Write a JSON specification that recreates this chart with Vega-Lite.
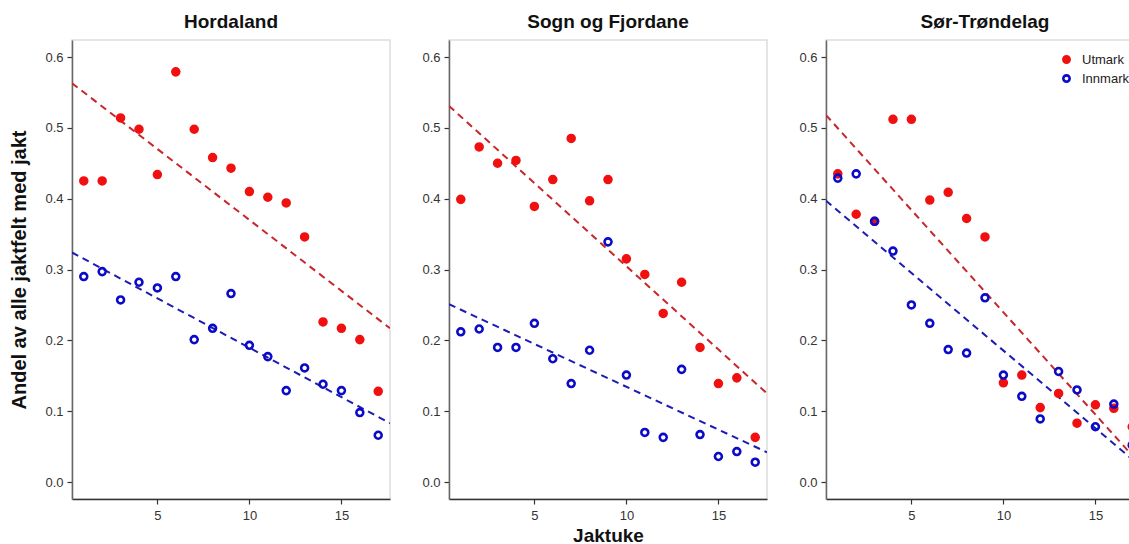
{
  "$schema": "https://vega.github.io/schema/vega-lite/v6.json",
  "background": "white",
  "padding": {"left": 9, "top": 12, "right": 0, "bottom": 0},
  "datasets": {
    "pts": [
      {"region": "Hordaland", "type": "Utmark", "uke": 1, "andel": 0.425},
      {"region": "Hordaland", "type": "Utmark", "uke": 2, "andel": 0.425},
      {"region": "Hordaland", "type": "Utmark", "uke": 3, "andel": 0.514},
      {"region": "Hordaland", "type": "Utmark", "uke": 4, "andel": 0.498},
      {"region": "Hordaland", "type": "Utmark", "uke": 5, "andel": 0.434},
      {"region": "Hordaland", "type": "Utmark", "uke": 6, "andel": 0.579},
      {"region": "Hordaland", "type": "Utmark", "uke": 7, "andel": 0.498},
      {"region": "Hordaland", "type": "Utmark", "uke": 8, "andel": 0.458},
      {"region": "Hordaland", "type": "Utmark", "uke": 9, "andel": 0.443},
      {"region": "Hordaland", "type": "Utmark", "uke": 10, "andel": 0.410},
      {"region": "Hordaland", "type": "Utmark", "uke": 11, "andel": 0.402},
      {"region": "Hordaland", "type": "Utmark", "uke": 12, "andel": 0.394},
      {"region": "Hordaland", "type": "Utmark", "uke": 13, "andel": 0.346},
      {"region": "Hordaland", "type": "Utmark", "uke": 14, "andel": 0.226},
      {"region": "Hordaland", "type": "Utmark", "uke": 15, "andel": 0.217},
      {"region": "Hordaland", "type": "Utmark", "uke": 16, "andel": 0.201},
      {"region": "Hordaland", "type": "Utmark", "uke": 17, "andel": 0.128},
      {"region": "Sogn og Fjordane", "type": "Utmark", "uke": 1, "andel": 0.399},
      {"region": "Sogn og Fjordane", "type": "Utmark", "uke": 2, "andel": 0.473},
      {"region": "Sogn og Fjordane", "type": "Utmark", "uke": 3, "andel": 0.450},
      {"region": "Sogn og Fjordane", "type": "Utmark", "uke": 4, "andel": 0.454},
      {"region": "Sogn og Fjordane", "type": "Utmark", "uke": 5, "andel": 0.389},
      {"region": "Sogn og Fjordane", "type": "Utmark", "uke": 6, "andel": 0.427},
      {"region": "Sogn og Fjordane", "type": "Utmark", "uke": 7, "andel": 0.485},
      {"region": "Sogn og Fjordane", "type": "Utmark", "uke": 8, "andel": 0.397},
      {"region": "Sogn og Fjordane", "type": "Utmark", "uke": 9, "andel": 0.427},
      {"region": "Sogn og Fjordane", "type": "Utmark", "uke": 10, "andel": 0.315},
      {"region": "Sogn og Fjordane", "type": "Utmark", "uke": 11, "andel": 0.293},
      {"region": "Sogn og Fjordane", "type": "Utmark", "uke": 12, "andel": 0.238},
      {"region": "Sogn og Fjordane", "type": "Utmark", "uke": 13, "andel": 0.282},
      {"region": "Sogn og Fjordane", "type": "Utmark", "uke": 14, "andel": 0.190},
      {"region": "Sogn og Fjordane", "type": "Utmark", "uke": 15, "andel": 0.139},
      {"region": "Sogn og Fjordane", "type": "Utmark", "uke": 16, "andel": 0.147},
      {"region": "Sogn og Fjordane", "type": "Utmark", "uke": 17, "andel": 0.063},
      {"region": "Sør-Trøndelag", "type": "Utmark", "uke": 1, "andel": 0.435},
      {"region": "Sør-Trøndelag", "type": "Utmark", "uke": 2, "andel": 0.378},
      {"region": "Sør-Trøndelag", "type": "Utmark", "uke": 3, "andel": 0.368},
      {"region": "Sør-Trøndelag", "type": "Utmark", "uke": 4, "andel": 0.512},
      {"region": "Sør-Trøndelag", "type": "Utmark", "uke": 5, "andel": 0.512},
      {"region": "Sør-Trøndelag", "type": "Utmark", "uke": 6, "andel": 0.398},
      {"region": "Sør-Trøndelag", "type": "Utmark", "uke": 7, "andel": 0.409},
      {"region": "Sør-Trøndelag", "type": "Utmark", "uke": 8, "andel": 0.372},
      {"region": "Sør-Trøndelag", "type": "Utmark", "uke": 9, "andel": 0.346},
      {"region": "Sør-Trøndelag", "type": "Utmark", "uke": 10, "andel": 0.140},
      {"region": "Sør-Trøndelag", "type": "Utmark", "uke": 11, "andel": 0.151},
      {"region": "Sør-Trøndelag", "type": "Utmark", "uke": 12, "andel": 0.105},
      {"region": "Sør-Trøndelag", "type": "Utmark", "uke": 13, "andel": 0.125},
      {"region": "Sør-Trøndelag", "type": "Utmark", "uke": 14, "andel": 0.083},
      {"region": "Sør-Trøndelag", "type": "Utmark", "uke": 15, "andel": 0.109},
      {"region": "Sør-Trøndelag", "type": "Utmark", "uke": 16, "andel": 0.104},
      {"region": "Sør-Trøndelag", "type": "Utmark", "uke": 17, "andel": 0.078},
      {"region": "Hordaland", "type": "Innmark", "uke": 1, "andel": 0.290},
      {"region": "Hordaland", "type": "Innmark", "uke": 2, "andel": 0.297},
      {"region": "Hordaland", "type": "Innmark", "uke": 3, "andel": 0.257},
      {"region": "Hordaland", "type": "Innmark", "uke": 4, "andel": 0.282},
      {"region": "Hordaland", "type": "Innmark", "uke": 5, "andel": 0.274},
      {"region": "Hordaland", "type": "Innmark", "uke": 6, "andel": 0.290},
      {"region": "Hordaland", "type": "Innmark", "uke": 7, "andel": 0.201},
      {"region": "Hordaland", "type": "Innmark", "uke": 8, "andel": 0.217},
      {"region": "Hordaland", "type": "Innmark", "uke": 9, "andel": 0.266},
      {"region": "Hordaland", "type": "Innmark", "uke": 10, "andel": 0.193},
      {"region": "Hordaland", "type": "Innmark", "uke": 11, "andel": 0.177},
      {"region": "Hordaland", "type": "Innmark", "uke": 12, "andel": 0.129},
      {"region": "Hordaland", "type": "Innmark", "uke": 13, "andel": 0.161},
      {"region": "Hordaland", "type": "Innmark", "uke": 14, "andel": 0.138},
      {"region": "Hordaland", "type": "Innmark", "uke": 15, "andel": 0.129},
      {"region": "Hordaland", "type": "Innmark", "uke": 16, "andel": 0.098},
      {"region": "Hordaland", "type": "Innmark", "uke": 17, "andel": 0.066},
      {"region": "Sogn og Fjordane", "type": "Innmark", "uke": 1, "andel": 0.212},
      {"region": "Sogn og Fjordane", "type": "Innmark", "uke": 2, "andel": 0.216},
      {"region": "Sogn og Fjordane", "type": "Innmark", "uke": 3, "andel": 0.190},
      {"region": "Sogn og Fjordane", "type": "Innmark", "uke": 4, "andel": 0.190},
      {"region": "Sogn og Fjordane", "type": "Innmark", "uke": 5, "andel": 0.224},
      {"region": "Sogn og Fjordane", "type": "Innmark", "uke": 6, "andel": 0.174},
      {"region": "Sogn og Fjordane", "type": "Innmark", "uke": 7, "andel": 0.139},
      {"region": "Sogn og Fjordane", "type": "Innmark", "uke": 8, "andel": 0.186},
      {"region": "Sogn og Fjordane", "type": "Innmark", "uke": 9, "andel": 0.339},
      {"region": "Sogn og Fjordane", "type": "Innmark", "uke": 10, "andel": 0.151},
      {"region": "Sogn og Fjordane", "type": "Innmark", "uke": 11, "andel": 0.070},
      {"region": "Sogn og Fjordane", "type": "Innmark", "uke": 12, "andel": 0.063},
      {"region": "Sogn og Fjordane", "type": "Innmark", "uke": 13, "andel": 0.159},
      {"region": "Sogn og Fjordane", "type": "Innmark", "uke": 14, "andel": 0.067},
      {"region": "Sogn og Fjordane", "type": "Innmark", "uke": 15, "andel": 0.036},
      {"region": "Sogn og Fjordane", "type": "Innmark", "uke": 16, "andel": 0.043},
      {"region": "Sogn og Fjordane", "type": "Innmark", "uke": 17, "andel": 0.028},
      {"region": "Sør-Trøndelag", "type": "Innmark", "uke": 1, "andel": 0.429},
      {"region": "Sør-Trøndelag", "type": "Innmark", "uke": 2, "andel": 0.435},
      {"region": "Sør-Trøndelag", "type": "Innmark", "uke": 3, "andel": 0.368},
      {"region": "Sør-Trøndelag", "type": "Innmark", "uke": 4, "andel": 0.326},
      {"region": "Sør-Trøndelag", "type": "Innmark", "uke": 5, "andel": 0.250},
      {"region": "Sør-Trøndelag", "type": "Innmark", "uke": 6, "andel": 0.224},
      {"region": "Sør-Trøndelag", "type": "Innmark", "uke": 7, "andel": 0.187},
      {"region": "Sør-Trøndelag", "type": "Innmark", "uke": 8, "andel": 0.182},
      {"region": "Sør-Trøndelag", "type": "Innmark", "uke": 9, "andel": 0.260},
      {"region": "Sør-Trøndelag", "type": "Innmark", "uke": 10, "andel": 0.151},
      {"region": "Sør-Trøndelag", "type": "Innmark", "uke": 11, "andel": 0.121},
      {"region": "Sør-Trøndelag", "type": "Innmark", "uke": 12, "andel": 0.089},
      {"region": "Sør-Trøndelag", "type": "Innmark", "uke": 13, "andel": 0.156},
      {"region": "Sør-Trøndelag", "type": "Innmark", "uke": 14, "andel": 0.130},
      {"region": "Sør-Trøndelag", "type": "Innmark", "uke": 15, "andel": 0.078},
      {"region": "Sør-Trøndelag", "type": "Innmark", "uke": 16, "andel": 0.110},
      {"region": "Sør-Trøndelag", "type": "Innmark", "uke": 17, "andel": 0.052}
    ],
    "fit": [
      {"region": "Hordaland", "type": "Utmark", "uke": 0.36, "andel": 0.563},
      {"region": "Hordaland", "type": "Utmark", "uke": 17.64, "andel": 0.217},
      {"region": "Hordaland", "type": "Innmark", "uke": 0.36, "andel": 0.324},
      {"region": "Hordaland", "type": "Innmark", "uke": 17.64, "andel": 0.083},
      {"region": "Sogn og Fjordane", "type": "Utmark", "uke": 0.36, "andel": 0.531},
      {"region": "Sogn og Fjordane", "type": "Utmark", "uke": 17.64, "andel": 0.125},
      {"region": "Sogn og Fjordane", "type": "Innmark", "uke": 0.36, "andel": 0.251},
      {"region": "Sogn og Fjordane", "type": "Innmark", "uke": 17.64, "andel": 0.042},
      {"region": "Sør-Trøndelag", "type": "Utmark", "uke": 0.36, "andel": 0.518},
      {"region": "Sør-Trøndelag", "type": "Utmark", "uke": 17.64, "andel": 0.019},
      {"region": "Sør-Trøndelag", "type": "Innmark", "uke": 0.36, "andel": 0.397},
      {"region": "Sør-Trøndelag", "type": "Innmark", "uke": 17.64, "andel": 0.018}
    ]
  },
  "spacing": 30,
  "hconcat": [
    {
      "width": 318, "height": 459,
      "title": "Hordaland",
      "layer": [
        {"data": {"name": "fit"}, "transform": [{"filter": "datum.region === 'Hordaland'"}],
         "mark": {"type": "line", "strokeDash": [7, 5], "strokeWidth": 2, "clip": true},
         "encoding": {
           "x": {"field": "uke", "type": "quantitative", "scale": {"domain": [0.36, 17.64], "nice": false, "zero": false}, "axis": {"values": [5, 10, 15], "title": null}},
           "y": {"field": "andel", "type": "quantitative", "scale": {"domain": [-0.024, 0.624], "nice": false, "zero": false}, "axis": {"values": [0, 0.1, 0.2, 0.3, 0.4, 0.5, 0.6], "format": ".1f", "title": "Andel av alle jaktfelt med jakt", "titlePadding": 15}},
           "detail": {"field": "type"},
           "color": {"field": "type", "scale": {"domain": ["Innmark", "Utmark"], "range": ["#1c1cb4", "#c8262b"]}, "legend": null}
         }},
        {"data": {"name": "pts"}, "transform": [{"filter": "datum.region === 'Hordaland'"}],
         "mark": {"type": "point", "size": 48, "strokeWidth": 2.6, "opacity": 1},
         "encoding": {
           "x": {"field": "uke", "type": "quantitative"},
           "y": {"field": "andel", "type": "quantitative"},
           "fill": {"field": "type", "scale": {"domain": ["Utmark", "Innmark"], "range": ["#f01010", "transparent"]}, "legend": {"orient": "none", "legendX": 988, "legendY": 13, "title": null, "labelFontSize": 13, "labelColor": "#222", "symbolSize": 40, "symbolStrokeWidth": 2.6, "labelOffset": 9, "rowPadding": 2, "padding": 0}},
           "stroke": {"field": "type", "scale": {"domain": ["Utmark", "Innmark"], "range": ["#f01010", "#0a0ac8"]}, "legend": {"orient": "none", "legendX": 988, "legendY": 13, "title": null, "labelFontSize": 13, "labelColor": "#222", "symbolSize": 40, "symbolStrokeWidth": 2.6, "labelOffset": 9, "rowPadding": 2, "padding": 0}}
         }},
        {"mark": {"type": "rule", "color": "#333", "strokeWidth": 1.2}, "encoding": {"x": {"datum": 17.64}}}
      ]
    },
    {
      "width": 318, "height": 459,
      "title": "Sogn og Fjordane",
      "layer": [
        {"data": {"name": "fit"}, "transform": [{"filter": "datum.region === 'Sogn og Fjordane'"}],
         "mark": {"type": "line", "strokeDash": [7, 5], "strokeWidth": 2, "clip": true},
         "encoding": {
           "x": {"field": "uke", "type": "quantitative", "scale": {"domain": [0.36, 17.64], "nice": false, "zero": false}, "axis": {"values": [5, 10, 15], "title": "Jaktuke"}},
           "y": {"field": "andel", "type": "quantitative", "scale": {"domain": [-0.024, 0.624], "nice": false, "zero": false}, "axis": {"values": [0, 0.1, 0.2, 0.3, 0.4, 0.5, 0.6], "format": ".1f", "title": null}},
           "detail": {"field": "type"},
           "color": {"field": "type", "scale": {"domain": ["Innmark", "Utmark"], "range": ["#1c1cb4", "#c8262b"]}, "legend": null}
         }},
        {"data": {"name": "pts"}, "transform": [{"filter": "datum.region === 'Sogn og Fjordane'"}],
         "mark": {"type": "point", "size": 48, "strokeWidth": 2.6, "opacity": 1},
         "encoding": {
           "x": {"field": "uke", "type": "quantitative"},
           "y": {"field": "andel", "type": "quantitative"},
           "fill": {"field": "type", "scale": {"domain": ["Utmark", "Innmark"], "range": ["#f01010", "transparent"]}, "legend": {"orient": "none", "legendX": 988, "legendY": 13, "title": null, "labelFontSize": 13, "labelColor": "#222", "symbolSize": 40, "symbolStrokeWidth": 2.6, "labelOffset": 9, "rowPadding": 2, "padding": 0}},
           "stroke": {"field": "type", "scale": {"domain": ["Utmark", "Innmark"], "range": ["#f01010", "#0a0ac8"]}, "legend": {"orient": "none", "legendX": 988, "legendY": 13, "title": null, "labelFontSize": 13, "labelColor": "#222", "symbolSize": 40, "symbolStrokeWidth": 2.6, "labelOffset": 9, "rowPadding": 2, "padding": 0}}
         }},
        {"mark": {"type": "rule", "color": "#333", "strokeWidth": 1.2}, "encoding": {"x": {"datum": 17.64}}}
      ]
    },
    {
      "width": 318, "height": 459,
      "title": "Sør-Trøndelag",
      "layer": [
        {"data": {"name": "fit"}, "transform": [{"filter": "datum.region === 'Sør-Trøndelag'"}],
         "mark": {"type": "line", "strokeDash": [7, 5], "strokeWidth": 2, "clip": true},
         "encoding": {
           "x": {"field": "uke", "type": "quantitative", "scale": {"domain": [0.36, 17.64], "nice": false, "zero": false}, "axis": {"values": [5, 10, 15], "title": null}},
           "y": {"field": "andel", "type": "quantitative", "scale": {"domain": [-0.024, 0.624], "nice": false, "zero": false}, "axis": {"values": [0, 0.1, 0.2, 0.3, 0.4, 0.5, 0.6], "format": ".1f", "title": null}},
           "detail": {"field": "type"},
           "color": {"field": "type", "scale": {"domain": ["Innmark", "Utmark"], "range": ["#1c1cb4", "#c8262b"]}, "legend": null}
         }},
        {"data": {"name": "pts"}, "transform": [{"filter": "datum.region === 'Sør-Trøndelag'"}],
         "mark": {"type": "point", "size": 48, "strokeWidth": 2.6, "opacity": 1},
         "encoding": {
           "x": {"field": "uke", "type": "quantitative"},
           "y": {"field": "andel", "type": "quantitative"},
           "fill": {"field": "type", "scale": {"domain": ["Utmark", "Innmark"], "range": ["#f01010", "transparent"]}, "legend": {"orient": "none", "legendX": 988, "legendY": 13, "title": null, "labelFontSize": 13, "labelColor": "#222", "symbolSize": 40, "symbolStrokeWidth": 2.6, "labelOffset": 9, "rowPadding": 2, "padding": 0}},
           "stroke": {"field": "type", "scale": {"domain": ["Utmark", "Innmark"], "range": ["#f01010", "#0a0ac8"]}, "legend": {"orient": "none", "legendX": 988, "legendY": 13, "title": null, "labelFontSize": 13, "labelColor": "#222", "symbolSize": 40, "symbolStrokeWidth": 2.6, "labelOffset": 9, "rowPadding": 2, "padding": 0}}
         }},
        {"mark": {"type": "rule", "color": "#333", "strokeWidth": 1.2}, "encoding": {"x": {"datum": 17.64}}}
      ]
    }
  ],
  "config": {
    "font": "Liberation Sans",
    "view": {"stroke": "#dddddd", "strokeWidth": 1.5},
    "title": {"fontSize": 19, "fontWeight": "bold", "color": "#111", "offset": 8},
    "axis": {"grid": false, "domainColor": "#333", "domainWidth": 1.5, "tickColor": "#333", "tickSize": 5, "tickWidth": 1.2, "labelFontSize": 13, "labelColor": "#333", "labelPadding": 4, "titleFontSize": 19, "titleFontWeight": "bold", "titleColor": "#111"},
    "axisY": {"domainColor": "#666", "titleFontSize": 20},
    "axisX": {"labelPadding": 5, "titlePadding": 4},
    "legend": {"symbolType": "circle"}
  }
}
